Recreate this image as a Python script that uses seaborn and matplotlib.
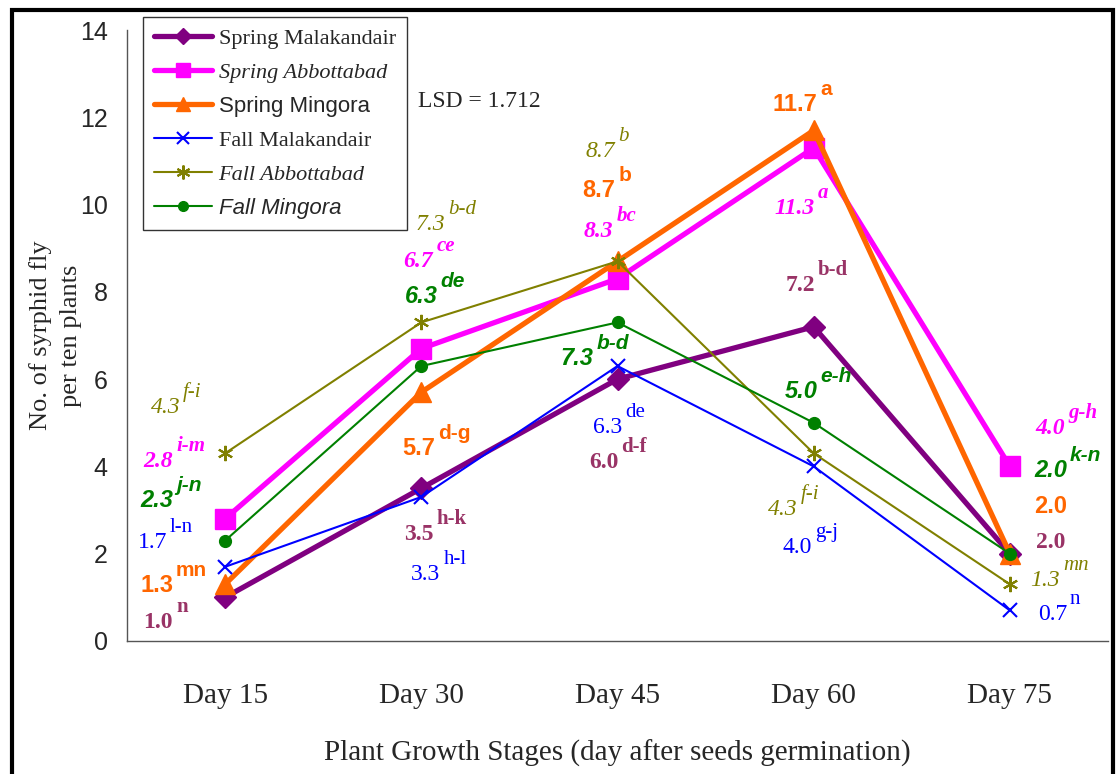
import numpy as np
import pandas as pd
import matplotlib
matplotlib.use("Agg")
import matplotlib.pyplot as plt
from matplotlib.patches import Rectangle
import seaborn as sns

# ---------------- data ----------------
stages = ["Day 15", "Day 30", "Day 45", "Day 60", "Day 75"]

spring_malakandair = [1.0, 3.5, 6.0, 7.2, 2.0]
spring_abbottabad = [2.8, 6.7, 8.3, 11.3, 4.0]
spring_mingora = [1.3, 5.7, 8.7, 11.7, 2.0]
fall_malakandair = [1.7, 3.3, 6.3, 4.0, 0.7]
fall_abbottabad = [4.3, 7.3, 8.7, 4.3, 1.3]
fall_mingora = [2.3, 6.3, 7.3, 5.0, 2.0]

sup_spring_malakandair = ["n", "h-k", "d-f", "b-d", ""]
sup_spring_abbottabad = ["i-m", "ce", "bc", "a", "g-h"]
sup_spring_mingora = ["mn", "d-g", "b", "a", ""]
sup_fall_malakandair = ["l-n", "h-l", "de", "g-j", "n"]
sup_fall_abbottabad = ["f-i", "b-d", "b", "f-i", "mn"]
sup_fall_mingora = ["j-n", "de", "b-d", "e-h", "k-n"]

series_names = ["Spring Malakandair", "Spring Abbottabad", "Spring Mingora",
                "Fall Malakandair", "Fall Abbottabad", "Fall Mingora"]
series_values = [spring_malakandair, spring_abbottabad, spring_mingora,
                 fall_malakandair, fall_abbottabad, fall_mingora]
series_sups = [sup_spring_malakandair, sup_spring_abbottabad, sup_spring_mingora,
               sup_fall_malakandair, sup_fall_abbottabad, sup_fall_mingora]

lsd_text = "LSD = 1.712"

# ---------------- styles ----------------
SERIF = "Liberation Serif"
SANS = "Liberation Sans"

line_colors = ["#800080", "#FF00FF", "#FF6600", "#0000FF", "#808000", "#008000"]
label_colors = ["#993366", "#FF00FF", "#FF6600", "#0000FF", "#808000", "#008000"]
markers = ["D", "s", "^", "x", (6, 2, 0), "o"]
msizes = [11, 14, 15, 10, 11, 8.5]
leg_msizes = [8, 9.5, 10, 9, 10, 7]
lwidths = [3.8, 3.8, 3.8, 1.5, 1.5, 1.5]
mews = [1, 1, 1, 1.5, 1.5, 1]
label_fonts = [
    dict(family=SERIF, weight="bold", style="normal"),
    dict(family=SERIF, weight="bold", style="italic"),
    dict(family=SANS, weight="bold", style="normal"),
    dict(family=SERIF, weight="normal", style="normal"),
    dict(family=SERIF, weight="normal", style="italic"),
    dict(family=SANS, weight="bold", style="italic"),
]
legend_fonts = [
    dict(family=SERIF, style="normal"),
    dict(family=SERIF, style="italic"),
    dict(family=SANS, style="normal"),
    dict(family=SERIF, style="normal"),
    dict(family=SERIF, style="italic"),
    dict(family=SANS, style="italic"),
]

# label offsets (pixels) of number right edge / baseline relative to the point
offsets = [
    [(-52, -31), (12, -52), (1, -89), (1, 36), (55, 6)],
    [(-52, 52), (12, 82), (-4, 42), (1, -66), (55, 32)],
    [(-52, -8), (14, -63), (-2, 64), (4, 19), (57, 41)],
    [(-58, 19), (19, -83), (5, -67), (-2, -87), (57, -10)],
    [(-45, 40), (24, 92), (-2, 104), (-16, -62), (50, -2)],
    [(-52, 34), (16, 63), (-24, -43), (4, 25), (57, 77)],
]

sns.set_style("white")
plt.rcParams["font.family"] = [SERIF, "DejaVu Sans"]

fig = plt.figure(figsize=(11.16, 7.74), dpi=100)
ax = fig.add_axes([127 / 1116, 1 - 641 / 774, (1108 - 127) / 1116, (641 - 30) / 774])

for name, vals, col, mk, ms, lw, mew in zip(series_names, series_values, line_colors,
                                             markers, msizes, lwidths, mews):
    df = pd.DataFrame({"stage": stages, "value": vals})
    sns.lineplot(data=df, x="stage", y="value", ax=ax, color=col, linewidth=lw,
                 marker=mk, markersize=ms, markeredgecolor=col, markerfacecolor=col,
                 markeredgewidth=mew, label=name, errorbar=None, sort=False)

# data labels
for vals, sups, col, fnt, offs in zip(series_values, series_sups, label_colors,
                                      label_fonts, offsets):
    for st, v, s, (dx, dy) in zip(stages, vals, sups, offs):
        ax.annotate(f"{v:.1f}", xy=(st, v), xytext=(dx, dy), textcoords="offset pixels",
                    ha="right", va="baseline", color=col, fontsize=17, **fnt)
        if s:
            ax.annotate(s, xy=(st, v), xytext=(dx + 3, dy + 16), textcoords="offset pixels",
                        ha="left", va="baseline", color=col, fontsize=15, **fnt)

# axes
ax.set_xlim(-0.5, 4.5)
ax.set_ylim(0, 14)
ax.set_yticks(np.arange(0, 15, 2))
ax.set_xticks(range(len(stages)))
ax.set_xticklabels(stages, fontfamily=SERIF, fontsize=21)
ax.set_xticks(np.arange(-0.5, len(stages), 1), minor=True)
ax.tick_params(axis="x", which="major", length=0, pad=30)
ax.tick_params(axis="x", which="minor", length=8, width=1, color="#444444", direction="out")
ax.tick_params(axis="y", which="major", length=6, width=1, color="#444444", direction="out",
               labelsize=18, pad=8)
for lab in ax.get_yticklabels():
    lab.set_fontfamily(SANS)
for sp in ["top", "right"]:
    ax.spines[sp].set_visible(False)
for sp in ["left", "bottom"]:
    ax.spines[sp].set_color("#555555")
    ax.spines[sp].set_linewidth(1.0)
ax.grid(False)

ax.set_xlabel("Plant Growth Stages (day after seeds germination)", fontfamily=SERIF,
              fontsize=21, labelpad=22)
ax.set_ylabel("No. of syrphid fly\nper ten plants", fontfamily=SERIF, fontsize=19,
              linespacing=1.45)
ax.yaxis.set_label_coords(-0.046, 0.5)

# legend
leg = ax.legend(loc="upper left", bbox_to_anchor=(143 / 1116, 1 - 17 / 774),
                bbox_transform=fig.transFigure, borderaxespad=0, frameon=True,
                fancybox=False, fontsize=16, labelspacing=0.6, handlelength=2.6,
                handletextpad=0.3, borderpad=0.5, numpoints=1)
leg.get_frame().set_edgecolor("black")
leg.get_frame().set_linewidth(1.0)
for txt, f in zip(leg.get_texts(), legend_fonts):
    txt.set_fontfamily(f["family"])
    txt.set_fontstyle(f["style"])
for h, ms in zip(leg.legend_handles, leg_msizes):
    h.set_markersize(ms)

fig.text(418 / 1116, 1 - 107 / 774, lsd_text, fontfamily=SERIF, fontsize=17,
         ha="left", va="baseline")

# outer border
fig.add_artist(Rectangle((11.5 / 1116, -0.05), (1113 - 11.5) / 1116, 1.05 - 9.5 / 774,
                         transform=fig.transFigure, fill=False, edgecolor="black",
                         linewidth=3, clip_on=False))

fig.savefig("out.png", dpi=100)
